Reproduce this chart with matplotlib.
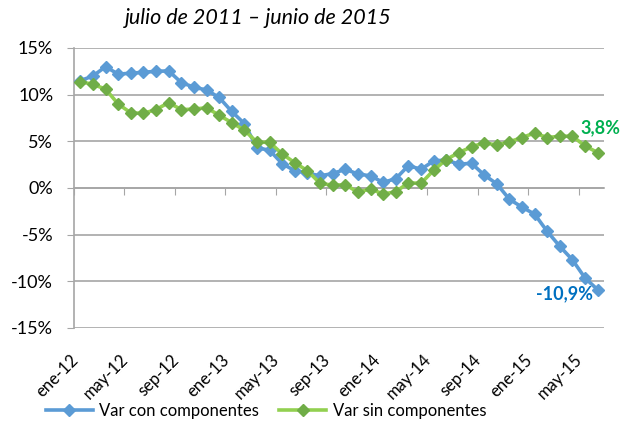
import matplotlib
matplotlib.use("Agg")
import matplotlib.pyplot as plt
from matplotlib.ticker import FuncFormatter

# datos: ene-12 .. jun-15 (variación %)
meses = ["ene", "feb", "mar", "abr", "may", "jun", "jul", "ago", "sep", "oct", "nov", "dic"]
periodos = [f"{m}-{a}" for a in ["12", "13", "14", "15"] for m in meses][:42]

var_con = [11.5, 12.0, 13.0, 12.2, 12.3, 12.4, 12.5, 12.55, 11.3, 10.8, 10.5, 9.7,
           8.2, 6.9, 4.3, 4.05, 2.6, 1.85, 1.6, 1.3, 1.55, 2.0, 1.5, 1.3,
           0.6, 1.0, 2.4, 2.0, 2.9, 3.0, 2.55, 2.65, 1.4, 0.45, -1.2, -2.05,
           -2.8, -4.65, -6.25, -7.7, -9.65, -10.9]
var_sin = [11.4, 11.1, 10.6, 9.0, 8.05, 8.0, 8.4, 9.15, 8.4, 8.45, 8.6, 7.8,
           7.0, 6.2, 4.9, 4.9, 3.65, 2.7, 1.85, 0.5, 0.3, 0.35, -0.45, -0.1,
           -0.65, -0.4, 0.55, 0.5, 1.9, 3.05, 3.8, 4.4, 4.85, 4.6, 4.95, 5.4,
           5.9, 5.4, 5.55, 5.55, 4.5, 3.8]

titulo = "julio de 2011 \u2013 junio de 2015"
etiquetas = ["Var con componentes", "Var sin componentes"]

plt.rcParams['font.family'] = ['Lato', 'DejaVu Sans']

fig = plt.figure(figsize=(6.34, 4.25), dpi=100)
ax = fig.add_axes([74 / 634, 1 - 328 / 425, 530 / 634, 280 / 425])

x = list(range(len(periodos)))
gris = "#A6A6A6"

ax.plot(x, var_con, color="#5B9BD5", lw=2.6, marker="D", ms=6.5,
        mfc="#5B9BD5", mec="#5B9BD5", label=etiquetas[0], zorder=3)
ax.plot(x, var_sin, color="#92D050", lw=2.6, marker="D", ms=6.5,
        mfc="#70AD47", mec="#70AD47", label=etiquetas[1], zorder=4)

ax.set_ylim(-15, 15)
ax.set_xlim(-0.5, len(periodos) - 0.5)
ax.set_yticks(range(-15, 16, 5))
ax.yaxis.set_major_formatter(FuncFormatter(lambda v, p: f"{int(v)}%"))
ax.grid(axis="y", color=gris, lw=1.2)
ax.set_axisbelow(True)

for s in ["top", "right"]:
    ax.spines[s].set_visible(False)
ax.spines["left"].set_color(gris)
ax.spines["left"].set_linewidth(1.2)
ax.spines["bottom"].set_position(("data", 0))
ax.spines["bottom"].set_color(gris)
ax.spines["bottom"].set_linewidth(1.2)

ax.tick_params(axis="y", length=5, color=gris, labelsize=13, pad=10)
ax.set_xticks([-0.5] + [i + 3.5 for i in range(0, 40, 4)])
ax.tick_params(axis="x", length=5, color=gris, labelbottom=False)

# etiquetas de categoría abajo
sec = ax.secondary_xaxis(0)
sec.set_xticks([i - 0.4 for i in x[::4]])
sec.set_xticklabels(periodos[::4], rotation=45, ha="right", va="center",
                    rotation_mode="anchor", fontsize=12)
sec.tick_params(length=0, pad=21)
sec.spines["bottom"].set_visible(False)

ax.annotate("3,8%", (x[-1], var_sin[-1]), xytext=(2, 18), textcoords="offset points",
            ha="center", va="center", color="#00B050", fontsize=13, fontweight="bold")
ax.annotate("-10,9%", (x[-1], var_con[-1]), xytext=(-24, -3), textcoords="offset points",
            ha="center", va="center", color="#0070C0", fontsize=13, fontweight="bold")

fig.text(258 / 634, 1 - 18 / 425, titulo, ha="center", va="center",
         fontsize=15.5, style="italic")

fig.legend(loc="center", bbox_to_anchor=(266 / 634, 1 - 411 / 425), ncol=2,
           frameon=False, fontsize=12, handlelength=2.8, columnspacing=1.2,
           handletextpad=0.4, borderaxespad=0)

fig.savefig("out.png", dpi=100)
